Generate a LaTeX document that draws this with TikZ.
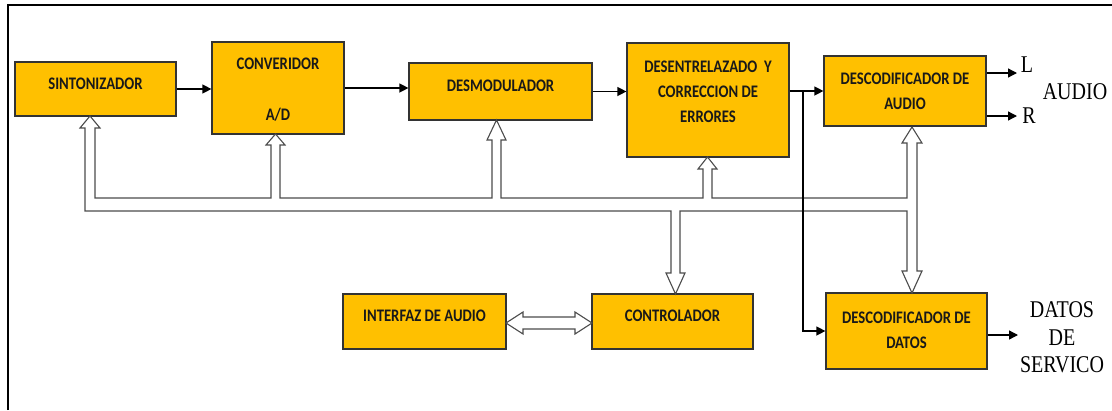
\documentclass[tikz,border=0pt]{standalone}
\usepackage{fontspec}
\setmainfont{Liberation Serif}
\newfontfamily\blockfont{Carlito}
\usetikzlibrary{arrows.meta}
\newcommand{\tall}[1]{\scalebox{1}[1.2]{#1}}
\definecolor{gold}{HTML}{FFC000}
\tikzset{
  block/.style={draw=black!80, line width=1.2pt, fill=gold, inner sep=0pt},
  blocktext/.style={font=\blockfont\bfseries\fontsize{14.7}{25}\selectfont, text=black!90, align=center, inner sep=0pt},
  outtext/.style={font=\fontsize{20}{27.5}\selectfont, align=center, inner sep=0pt},
  sig/.style={-{Triangle[length=9pt,width=9pt]}, line width=1.3pt},
  bus/.style={draw=black!70, line width=1.1pt, fill=white, line join=miter},
}
\begin{document}
\begin{tikzpicture}[x=1pt,y=-1pt]
\useasboundingbox (0,0) rectangle (1112,410);
\draw[line width=2.5pt] (8,410) -- (8,5) -- (1112,5);

\node[block, minimum width=161pt, minimum height=54pt] (sint) at (95.5,89) {};
\node[block, minimum width=132pt, minimum height=92pt] (conv) at (278,88) {};
\node[block, minimum width=183pt, minimum height=57pt] (desm) at (500.5,91.5) {};
\node[block, minimum width=162pt, minimum height=114pt] (desent) at (708,100) {};
\node[block, minimum width=162pt, minimum height=70pt] (dcaudio) at (905,91) {};
\node[block, minimum width=163pt, minimum height=55pt] (interfaz) at (424.5,321.5) {};
\node[block, minimum width=161pt, minimum height=55pt] (control) at (672.5,321.5) {};
\node[block, minimum width=161pt, minimum height=76pt] (dcdatos) at (906.5,331) {};

\node[blocktext] (sint-t) at (95.5,84) {\tall{SINTONIZADOR}};
\node[blocktext] (conv-t) at (278,89.5) {\tall{CONVERIDOR}\\[26pt]\tall{A/D}};
\node[blocktext] (desm-t) at (500.5,86) {\tall{DESMODULADOR}};
\node[blocktext] (desent-t) at (708,92) {\tall{DESENTRELAZADO\ \ Y}\\\tall{CORRECCION DE}\\\tall{ERRORES}};
\node[blocktext] (dcaudio-t) at (905,91.5) {\tall{DESCODIFICADOR DE}\\\tall{AUDIO}};
\node[blocktext] (interfaz-t) at (424.5,316) {\tall{INTERFAZ DE AUDIO}};
\node[blocktext] (control-t) at (672.5,316) {\tall{CONTROLADOR}};
\node[blocktext] (dcdatos-t) at (906.5,330.5) {\tall{DESCODIFICADOR DE}\\\tall{DATOS}};

\node[outtext] (l) at (1027,65) {\tall{L}};
\node[outtext] (r) at (1029,116) {\tall{R}};
\node[outtext] (audio) at (1075,91.5) {\tall{AUDIO}};
\node[outtext] (datos) at (1062,337.5) {\tall{DATOS}\\\tall{DE}\\\tall{SERVICO}};

\draw[bus] (85,211) -- (85,128) -- (80,128) -- (90,116) -- (100,128) -- (95,128) -- (95,198)
  -- (271,198) -- (271,145) -- (266,145) -- (275.5,134) -- (285,145) -- (280,145) -- (280,198)
  -- (492,198) -- (492,140) -- (487,140) -- (496.5,120) -- (506,140) -- (501,140) -- (501,198)
  -- (703,198) -- (703,169) -- (698,169) -- (707.5,157) -- (717,169) -- (712,169) -- (712,198)
  -- (907,198) -- (907,143) -- (902,143) -- (912,127) -- (922,143) -- (917,143)
  -- (917,271) -- (922,271) -- (912,293) -- (902,271) -- (907,271) -- (907,211)
  -- (680,211) -- (680,273) -- (685,273) -- (675.5,294) -- (666,273) -- (671,273) -- (671,211)
  -- cycle;
\draw[bus] (506,323) -- (523,312) -- (523,317) -- (575,317) -- (575,312) -- (592,323)
  -- (575,334) -- (575,329) -- (523,329) -- (523,334) -- cycle;

\coordinate (split) at (803,91);
\coordinate (lout) at (1017,73);
\coordinate (rout) at (1017,116);
\coordinate (dout) at (1018,335);

\draw[sig] (sint.east) -- (sint.east -| conv.west);
\draw[sig] (conv.east) -- (conv.east -| desm.west);
\draw[sig] (desm.east) -- (desm.east -| desent.west);
\draw[sig] (dcaudio.west -| desent.east) -- (dcaudio.west);
\draw[sig] (split) |- (dcdatos.west);
\draw[sig] (dcaudio.east |- lout) -- (lout);
\draw[sig] (dcaudio.east |- rout) -- (rout);
\draw[sig] (dcdatos.east |- dout) -- (dout);
\end{tikzpicture}
\end{document}
